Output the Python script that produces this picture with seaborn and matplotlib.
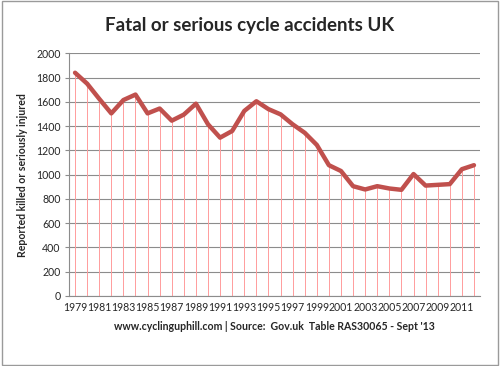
import numpy as np
import pandas as pd
import matplotlib
matplotlib.use("Agg")
import matplotlib.pyplot as plt
import seaborn as sns

# data
years = list(range(1979, 2013))
ksi = [1840, 1750, 1625, 1505, 1615, 1660, 1505, 1545, 1445, 1495,
       1585, 1415, 1305, 1360, 1525, 1605, 1540, 1497, 1415, 1345,
       1245, 1078, 1030, 905, 878, 905, 886, 875, 1005, 910,
       916, 922, 1045, 1078]
tick_years = list(range(1979, 2012, 2))
y_ticks = list(range(0, 2001, 200))

df = pd.DataFrame({"year": years, "ksi": ksi})

sns.set_theme(style="white")
plt.rcParams["font.family"] = ["Lato", "DejaVu Sans"]

fig = plt.figure(figsize=(5, 3.66), dpi=100)
ax = fig.add_axes([0.138, 0.1913, 0.822, 0.663])

# horizontal gridlines
for v in y_ticks:
    ax.axhline(v, color="#8c8c8c", lw=0.8, zorder=0)

# drop lines from each point to the axis
ax.vlines(df["year"], 0, df["ksi"], color="#ff9c9c", lw=0.7, zorder=1)

sns.lineplot(data=df, x="year", y="ksi", color="#c0504d", lw=3.2, ax=ax,
             zorder=3)

ax.set_xlim(1978.5, 2012.5)
ax.set_ylim(0, 2000)
ax.set_yticks(y_ticks)
ax.set_xticks(tick_years)
ax.set_xticklabels([str(y) for y in tick_years], fontsize=7.6)
ax.tick_params(axis="y", labelsize=7.6, length=3, width=0.8,
               color="#8c8c8c", left=True, pad=3)
ax.tick_params(axis="x", length=0, pad=4)

for s in ["top", "right"]:
    ax.spines[s].set_visible(False)
ax.spines["left"].set_color("#8c8c8c")
ax.spines["left"].set_linewidth(0.8)
ax.spines["bottom"].set_color("#8c8c8c")
ax.spines["bottom"].set_linewidth(0.8)

ax.set_ylabel("Reported killed or seriously injured", fontsize=7.6,
              fontweight="bold", labelpad=6)
ax.set_xlabel("www.cyclinguphill.com | Source:  Gov.uk  Table RAS30065 - Sept '13",
              fontsize=7.6, fontweight="bold", labelpad=6)

fig.text(0.5, 0.929, "Fatal or serious cycle accidents UK", ha="center",
         va="center", fontsize=13.5, fontweight="bold")

# outer chart border
border = plt.Rectangle((0.003, 0.004), 0.993, 0.992, transform=fig.transFigure,
                       fill=False, edgecolor="#9a9a9a", lw=1.0)
fig.patches.append(border)

fig.savefig("out.png", dpi=100)
